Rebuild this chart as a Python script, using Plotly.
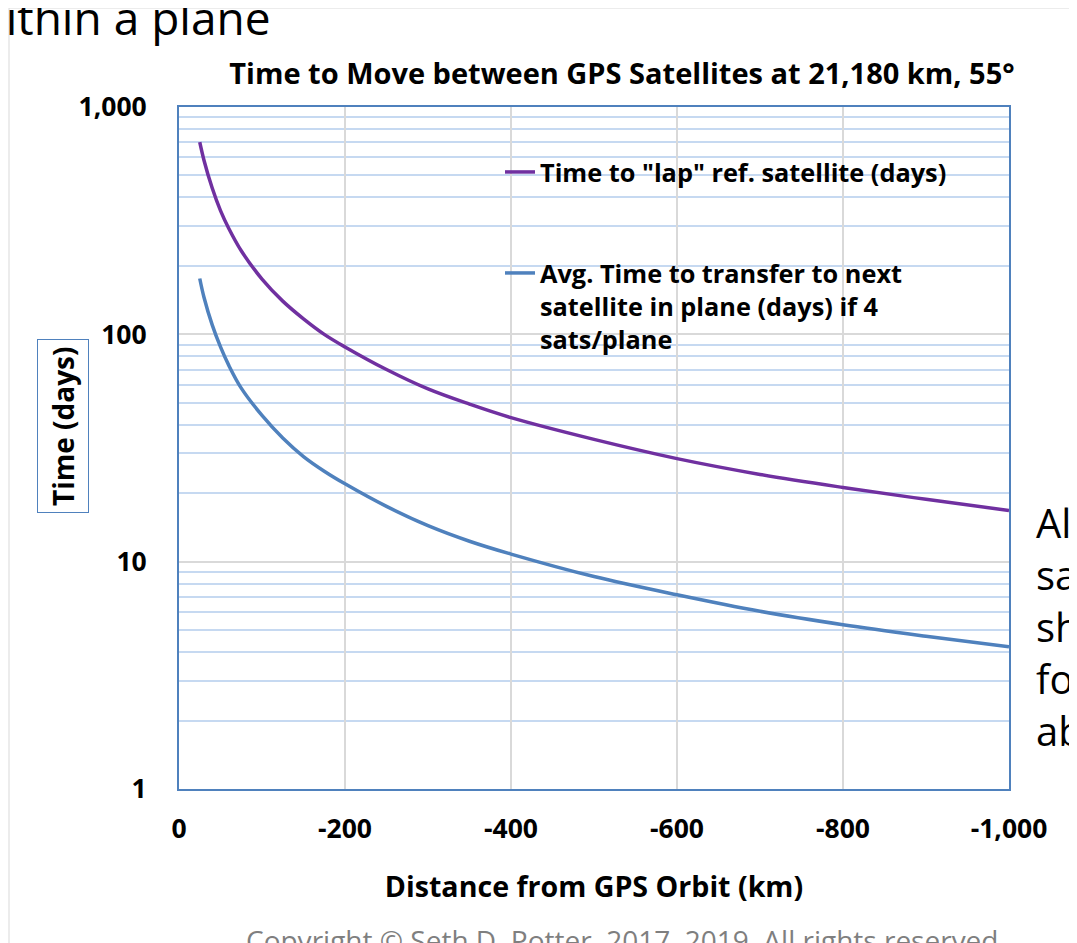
import plotly.graph_objects as go

# ---- data ----
distance_km = [-25, -30, -40, -50, -60, -75, -100, -125, -150, -175, -200, -250,
               -300, -350, -400, -500, -600, -700, -800, -900, -1000]
lap_days = [700, 585, 440, 350, 292, 233, 175, 140, 117, 100, 88, 70,
            57.5, 49.3, 43, 34.5, 28.4, 24.2, 21.2, 18.8, 16.8]
transfer_days = [176, 146, 110, 88, 73, 58, 44, 35, 29, 25, 22, 17.5,
                 14.4, 12.3, 10.8, 8.6, 7.15, 6.05, 5.28, 4.7, 4.22]

x_tickvals = [0, -200, -400, -600, -800, -1000]
x_ticktext = ["0", "-200", "-400", "-600", "-800", "-1,000"]
y_tickvals = [1, 10, 100, 1000]
y_ticktext = ["1", "10", "100", "1,000"]

name_lap = 'Time to "lap" ref. satellite (days)'
name_transfer = "Avg. Time to transfer to next<br>satellite in plane (days) if 4<br>sats/plane"

FONT = "Open Sans"
PURPLE = "#7030a0"
BLUE = "#4f81bd"
GRID = "#d9d9d9"
MINOR = "#c6d9f1"

def bold(s):
    return "<b>" + s + "</b>"

# plot-area pixel geometry (as rendered in the page)
PL, PR, PT, PB = 178, 1008, 106, 788
PW, PH = PR - PL, PB - PT
OFF = 7  # page offset of the figure

def px(x):
    return (x - PL) / PW

def py(y):
    return (PB - y) / PH

fig = go.Figure()
fig.add_trace(go.Scatter(x=distance_km, y=lap_days, mode="lines", name=bold(name_lap),
                         line=dict(color=PURPLE, width=3.5, shape="spline"),
                         legend="legend"))
fig.add_trace(go.Scatter(x=distance_km, y=transfer_days, mode="lines",
                         name=bold(name_transfer),
                         line=dict(color=BLUE, width=3.5, shape="spline"),
                         legend="legend2"))

fig.update_layout(
    width=1077, height=943,
    margin=dict(l=PL - OFF, r=1077 - PW - (PL - OFF), t=PT - OFF, b=943 - PH - (PT - OFF)),
    paper_bgcolor="white", plot_bgcolor="white",
    showlegend=True,
    font=dict(family=FONT, color="black"),
    title=dict(text=bold("Time to Move between GPS Satellites at 21,180 km, 55°"),
               x=(621 - OFF) / 1077, xanchor="center", xref="container",
               y=1 - (73 - OFF) / 943, yanchor="middle", yref="container",
               font=dict(size=29, family=FONT, color="black")),
    legend=dict(x=px(499), y=py(148), xanchor="left", yanchor="top",
                bgcolor="rgba(0,0,0,0)", font=dict(size=25.3, family=FONT),
                itemwidth=30, valign="top"),
    legend2=dict(x=px(499), y=py(249), xanchor="left", yanchor="top",
                 bgcolor="rgba(0,0,0,0)", font=dict(size=25.3, family=FONT),
                 itemwidth=30, valign="top"),
)

fig.update_xaxes(
    range=[0, -1000], tickvals=x_tickvals, ticktext=[bold(t) for t in x_ticktext],
    tickfont=dict(size=26.5, family=FONT), ticklabelstandoff=15,
    showgrid=True, gridcolor=GRID, gridwidth=2,
    showline=True, linecolor=BLUE, linewidth=2, mirror=True,
    zeroline=False, ticks="",
    title=dict(text=bold("Distance from GPS Orbit (km)"),
               font=dict(size=28.6, family=FONT), standoff=32),
)
fig.update_yaxes(
    type="log", range=[0, 3], tickvals=y_tickvals, ticktext=[bold(t) for t in y_ticktext],
    tickfont=dict(size=26.5, family=FONT), ticklabelstandoff=25,
    showgrid=True, gridcolor=GRID, gridwidth=2,
    minor=dict(dtick="D1", showgrid=True, gridcolor=MINOR, gridwidth=1.5, ticks=""),
    showline=True, linecolor=BLUE, linewidth=2, mirror=True,
    zeroline=False, ticks="",
)

# Y-axis title in a framed box
fig.add_annotation(text=bold("Time (days)"), textangle=-90,
                   xref="paper", yref="paper", x=px(62), y=py(425),
                   showarrow=False, font=dict(size=28, family=FONT),
                   bordercolor=BLUE, borderwidth=1, borderpad=6,
                   xanchor="center", yanchor="middle")

# surrounding slide text (partially visible)
fig.add_annotation(text="within a plane", xref="paper", yref="paper",
                   x=px(272), y=py(16), xanchor="right", yanchor="middle",
                   showarrow=False, font=dict(size=46, family=FONT, color="black"))
fig.add_annotation(text="Alt<br>sat<br>sho<br>for<br>ab", xref="paper", yref="paper",
                   x=px(1033), y=py(492), xanchor="left", yanchor="top",
                   align="left", showarrow=False,
                   font=dict(size=40, family=FONT, color="black"))
fig.add_annotation(text="Copyright © Seth D. Potter, 2017, 2019. All rights reserved",
                   xref="paper", yref="paper", x=px(621), y=py(918),
                   xanchor="center", yanchor="top", showarrow=False,
                   font=dict(size=28, family=FONT, color="#7f7f7f"))

# chart frame line
fig.add_shape(type="rect", xref="paper", yref="paper",
              x0=px(8), x1=px(1100), y0=py(980), y1=py(7),
              line=dict(color="#d9d9d9", width=1), layer="below")

fig.write_html("out.html")
